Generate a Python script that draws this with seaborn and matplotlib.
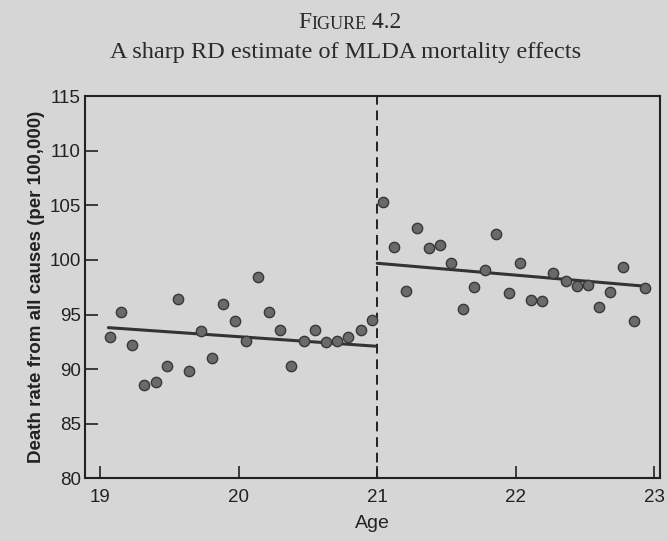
import numpy as np
import pandas as pd
import seaborn as sns
import matplotlib

matplotlib.use('Agg')
import matplotlib.pyplot as plt

# monthly (30-day) age cells and death rates
age_under = [19.07, 19.15, 19.23, 19.32, 19.40, 19.48, 19.56, 19.64, 19.73, 19.81, 19.89, 19.97,
             20.05, 20.14, 20.22, 20.30, 20.38, 20.47, 20.55, 20.63, 20.71, 20.79, 20.88, 20.96]
rate_under = [92.9, 95.2, 92.2, 88.5, 88.8, 90.3, 96.4, 89.8, 93.5, 91.0, 96.0, 94.4,
              92.6, 98.4, 95.2, 93.6, 90.3, 92.6, 93.6, 92.5, 92.6, 92.9, 93.6, 94.5]
age_over = [21.04, 21.12, 21.21, 21.29, 21.37, 21.45, 21.53, 21.62, 21.70, 21.78, 21.86, 21.95,
            22.03, 22.11, 22.19, 22.27, 22.36, 22.44, 22.52, 22.60, 22.68, 22.77, 22.85, 22.93]
rate_over = [105.3, 101.2, 97.2, 102.9, 101.1, 101.4, 99.7, 95.5, 97.5, 99.1, 102.4, 97.0,
             99.7, 96.3, 96.2, 98.8, 98.1, 97.6, 97.7, 95.7, 97.1, 99.4, 94.4, 97.4]

# fitted RD lines as printed (ends of each segment)
fit_age_under = [19.06, 20.99]
fit_rate_under = [93.8, 92.1]
fit_age_over = [21.0, 22.93]
fit_rate_over = [99.7, 97.6]

cutoff = 21
x_ticks = [19, 20, 21, 22, 23]
y_ticks = [80, 85, 90, 95, 100, 105, 110, 115]

df = pd.DataFrame({'age': age_under + age_over, 'rate': rate_under + rate_over})
fits = pd.DataFrame({
    'age': fit_age_under + fit_age_over,
    'rate': fit_rate_under + fit_rate_over,
    'side': ['under'] * 2 + ['over'] * 2,
})

sns.set_style('ticks')
plt.rcParams['font.family'] = ['Liberation Sans', 'DejaVu Sans']
bg = '#d6d6d6'
ink = '#222222'

fig = plt.figure(figsize=(6.68, 5.41), dpi=100, facecolor=bg)
ax = fig.add_axes([0.127, 0.116, 0.861, 0.706])
ax.set_facecolor(bg)

ax.axvline(cutoff, color=ink, lw=1.4, ls=(0, (5, 3)), zorder=1)

sns.lineplot(data=fits, x='age', y='rate', units='side', estimator=None, ax=ax,
             color='#333333', lw=2.2, zorder=2)
sns.scatterplot(data=df, x='age', y='rate', ax=ax, color='#6a6a6a',
                edgecolor='#383838', linewidth=1.0, s=55, zorder=3, legend=False)

ax.set_xlim(18.89, 23.04)
ax.set_ylim(80, 115)
ax.set_xticks(x_ticks)
ax.set_yticks(y_ticks)
ax.tick_params(direction='in', length=9, width=1.2, labelsize=13.5, colors=ink)
ax.tick_params(axis='x', pad=8)
ax.tick_params(axis='y', pad=3)
for sp in ax.spines.values():
    sp.set_color(ink)
    sp.set_linewidth(1.5)

ax.set_xlabel('Age', fontsize=14, color=ink, labelpad=6)
ax.set_ylabel('Death rate from all causes (per 100,000)', fontsize=13.5,
              fontweight='bold', color=ink, labelpad=3)

# title: "Figure 4.2" in small caps, then the subtitle
serif = ['Liberation Serif', 'DejaVu Serif']
t1 = fig.text(0.446, 0.948, 'F', fontsize=17, family=serif, color='#2a2a2a')
t2 = ax.annotate('IGURE', xy=(1, 0), xycoords=t1, fontsize=13, family=serif,
                 color='#2a2a2a', va='bottom')
ax.annotate(' 4.2', xy=(1, 0), xycoords=t2, fontsize=17, family=serif,
            color='#2a2a2a', va='bottom')
fig.text(0.517, 0.893, 'A sharp RD estimate of MLDA mortality effects', fontsize=17.5,
         family=serif, color='#2a2a2a', ha='center')

fig.savefig('out.png', dpi=100, facecolor=bg)
